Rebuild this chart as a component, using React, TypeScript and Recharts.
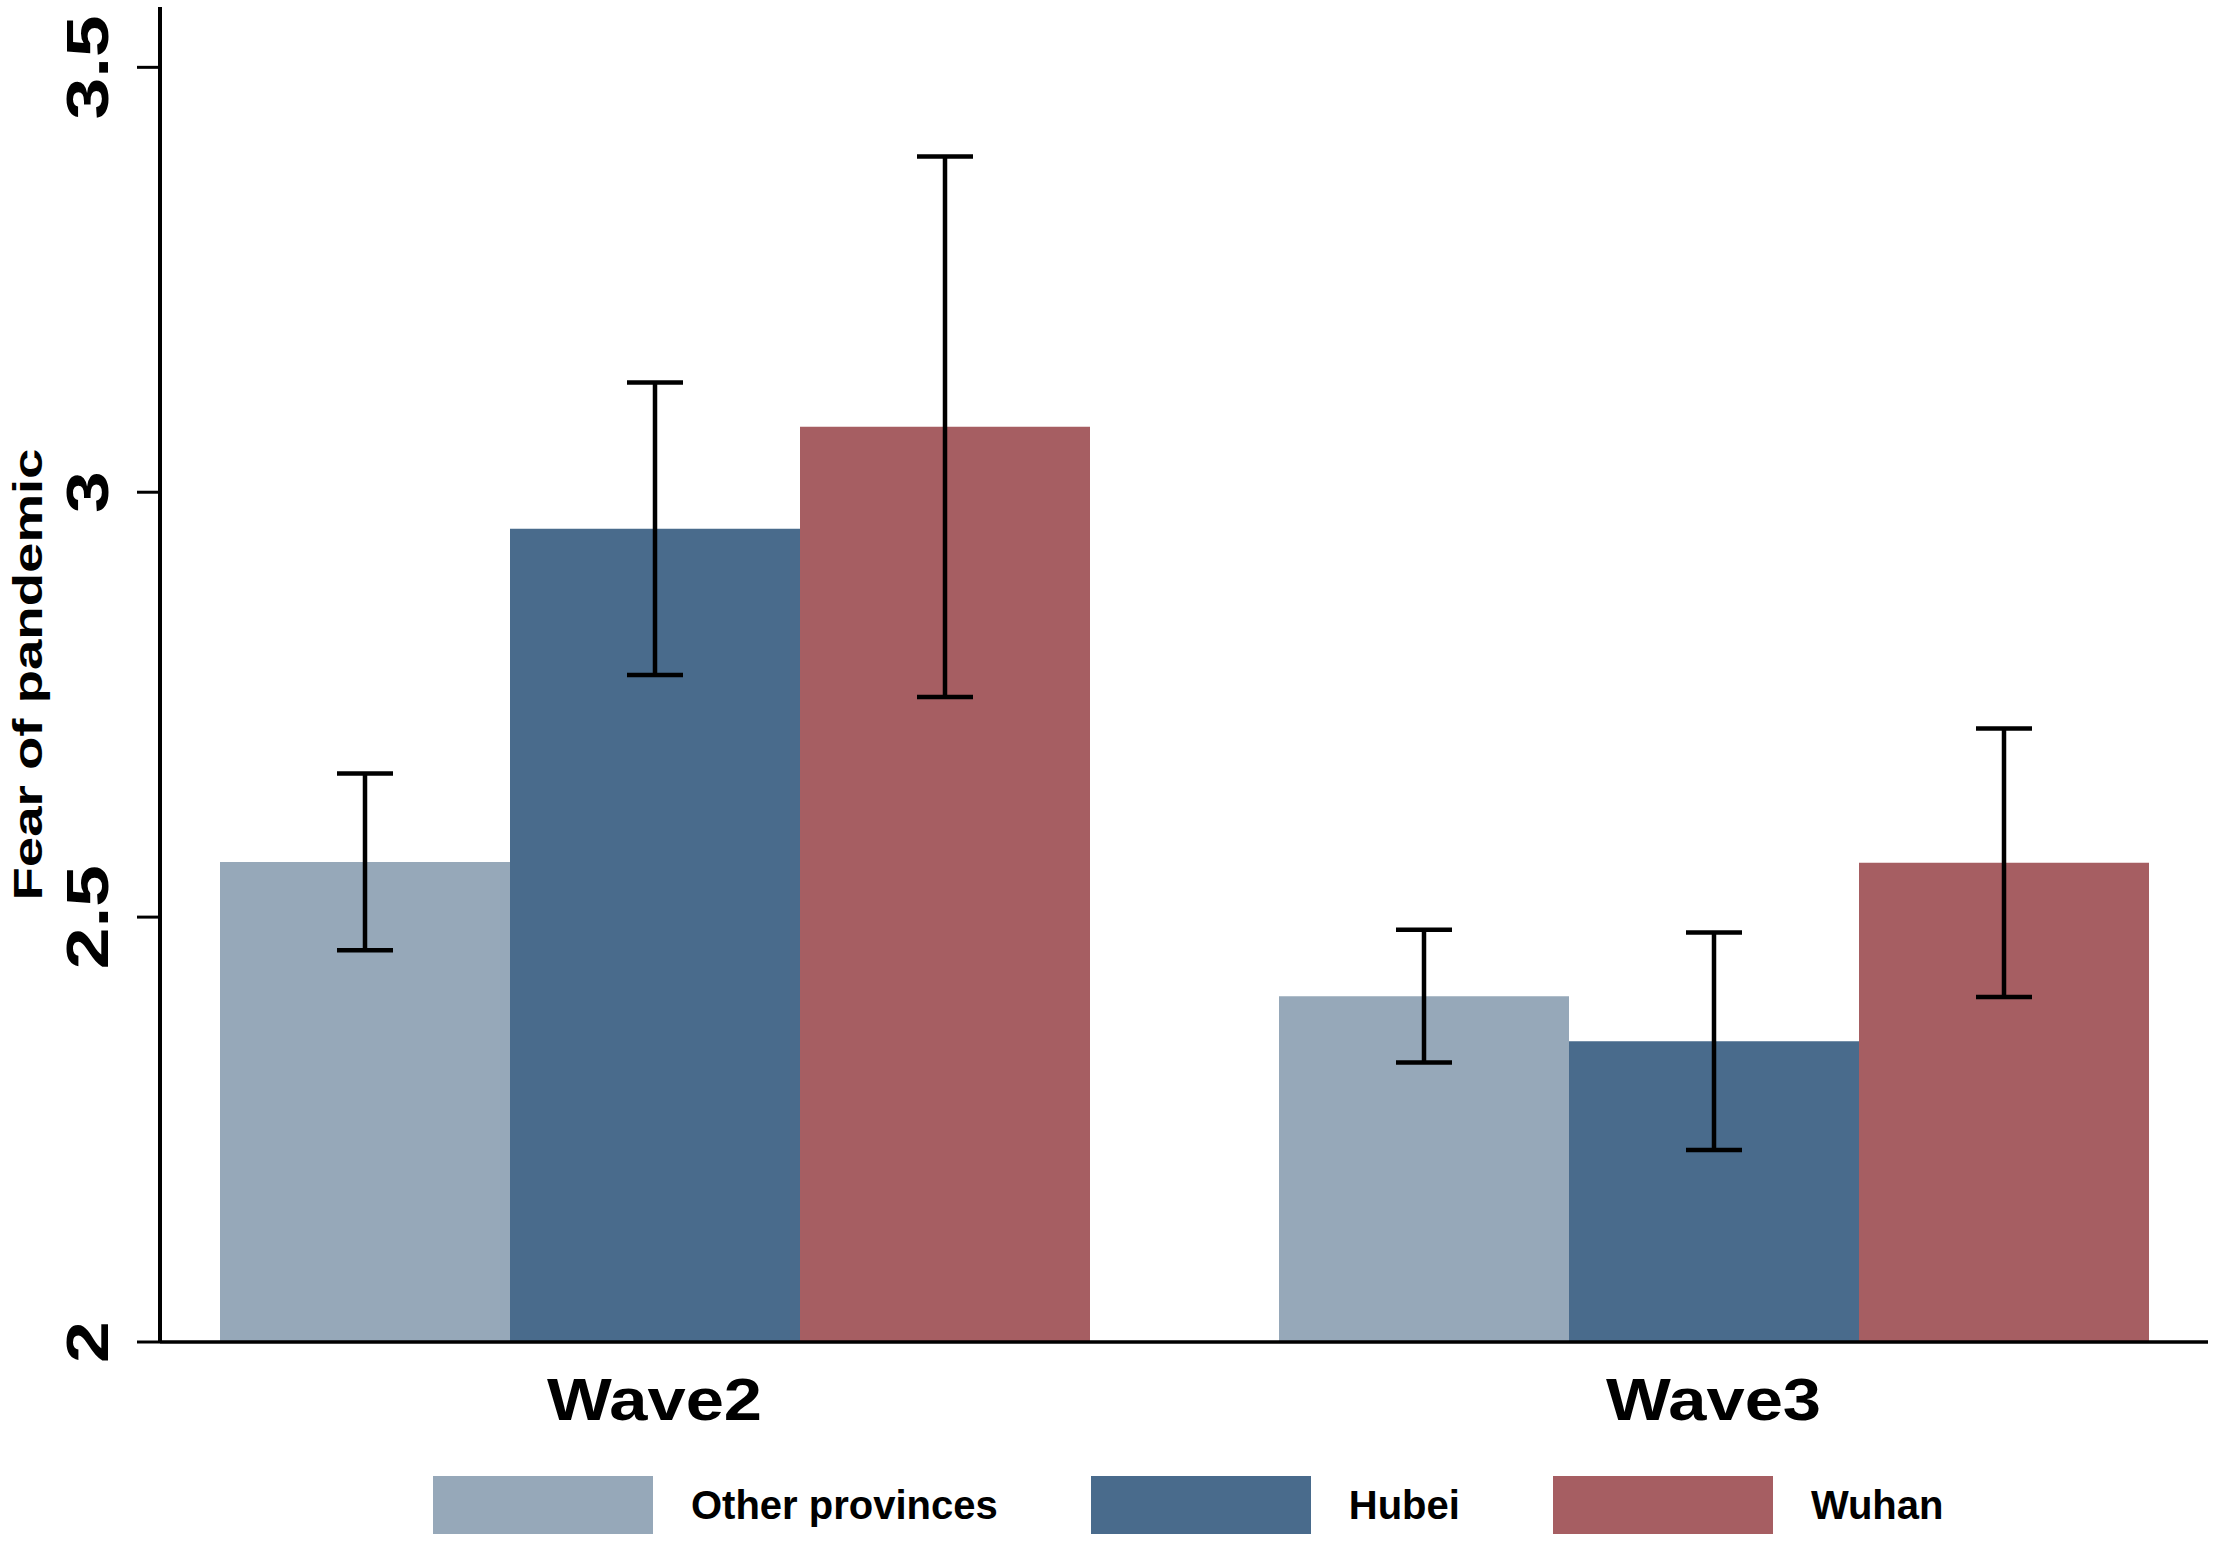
import React from "react";
import { BarChart, Bar, XAxis, YAxis, ErrorBar, Legend } from "recharts";

const waves = ["Wave2", "Wave3"];
const otherMean = [2.565, 2.407];
const otherErr = [0.104, 0.078];
const hubeiMean = [2.957, 2.354];
const hubeiErr = [0.172, 0.128];
const wuhanMean = [3.077, 2.564];
const wuhanErr = [0.318, 0.158];
const yTicks = [2, 2.5, 3, 3.5];

const series = [
  { key: "other", name: "Other provinces", color: "#96a8b9" },
  { key: "hubei", name: "Hubei", color: "#496b8c" },
  { key: "wuhan", name: "Wuhan", color: "#a65e62" },
];

const data = waves.map((w, i) => ({
  wave: w,
  other: otherMean[i],
  otherErr: otherErr[i],
  hubei: hubeiMean[i],
  hubeiErr: hubeiErr[i],
  wuhan: wuhanMean[i],
  wuhanErr: wuhanErr[i],
}));

const font = "'Liberation Sans', Arial, sans-serif";

function YTick(props: any) {
  const { x, y, payload } = props;
  return (
    <text
      x={x}
      y={y}
      transform={`rotate(-90 ${x} ${y}) translate(${x} ${y}) scale(1.25 1) translate(${-x} ${-y})`}
      textAnchor="middle"
      fontFamily={font}
      fontWeight={700}
      fontSize={60}
      fill="#000"
    >
      {payload.value}
    </text>
  );
}

function XTick(props: any) {
  const { x, y, payload } = props;
  return (
    <text
      x={x}
      y={y + 78}
      textAnchor="middle"
      fontFamily={font}
      fontWeight={700}
      fontSize={59}
      textLength={215}
      lengthAdjust="spacingAndGlyphs"
      fill="#000"
    >
      {payload.value}
    </text>
  );
}

function YLabel(props: any) {
  const vb = props.viewBox;
  const x = vb.x + 42;
  const y = vb.y + vb.height / 2;
  return (
    <text
      x={x}
      y={y}
      transform={`rotate(-90 ${x} ${y})`}
      textAnchor="middle"
      fontFamily={font}
      fontWeight={700}
      fontSize={40}
      textLength={452}
      lengthAdjust="spacingAndGlyphs"
      fill="#000"
    >
      Fear of pandemic
    </text>
  );
}

function LegendBox() {
  return (
    <div
      style={{
        display: "flex",
        alignItems: "center",
        paddingLeft: 433,
        paddingTop: 24,
        fontFamily: font,
        fontWeight: 700,
        fontSize: 40,
        color: "#000",
      }}
    >
      {series.map((s) => (
        <div key={s.key} style={{ display: "flex", alignItems: "center", marginRight: 93 }}>
          <div style={{ width: 220, height: 58, background: s.color, marginRight: 38 }} />
          <span>{s.name}</span>
        </div>
      ))}
    </div>
  );
}

export default function App() {
  return (
    <div style={{ width: 2217, height: 1544, background: "#fff" }}>
      <style>{`body{margin:0;background:#fff}`}</style>
      <BarChart
        width={2217}
        height={1544}
        data={data}
        margin={{ top: 7, right: 9, bottom: 0, left: 0 }}
        barCategoryGap={95}
        barGap={0}
      >
        <XAxis
          dataKey="wave"
          height={110}
          padding={{ left: -35, right: -35 }}
          axisLine={{ stroke: "#000", strokeWidth: 3.5 }}
          tickLine={false}
          tickSize={0}
          tickMargin={0}
          tick={<XTick />}
          interval={0}
        />
        <YAxis
          width={160}
          domain={[2, 3.571]}
          allowDataOverflow
          ticks={yTicks}
          interval={0}
          axisLine={{ stroke: "#000", strokeWidth: 4 }}
          tickLine={{ stroke: "#000", strokeWidth: 3 }}
          tickSize={23}
          tickMargin={29}
          tick={<YTick />}
          label={{ content: YLabel }}
        />
        <Legend verticalAlign="bottom" height={92} content={() => <LegendBox />} />
        {series.map((s) => (
          <Bar key={s.key} dataKey={s.key} name={s.name} fill={s.color} isAnimationActive={false}>
            <ErrorBar
              dataKey={`${s.key}Err`}
              width={28}
              stroke="#000"
              strokeWidth={4.5}
              direction="y"
              isAnimationActive={false}
            />
          </Bar>
        ))}
      </BarChart>
    </div>
  );
}
